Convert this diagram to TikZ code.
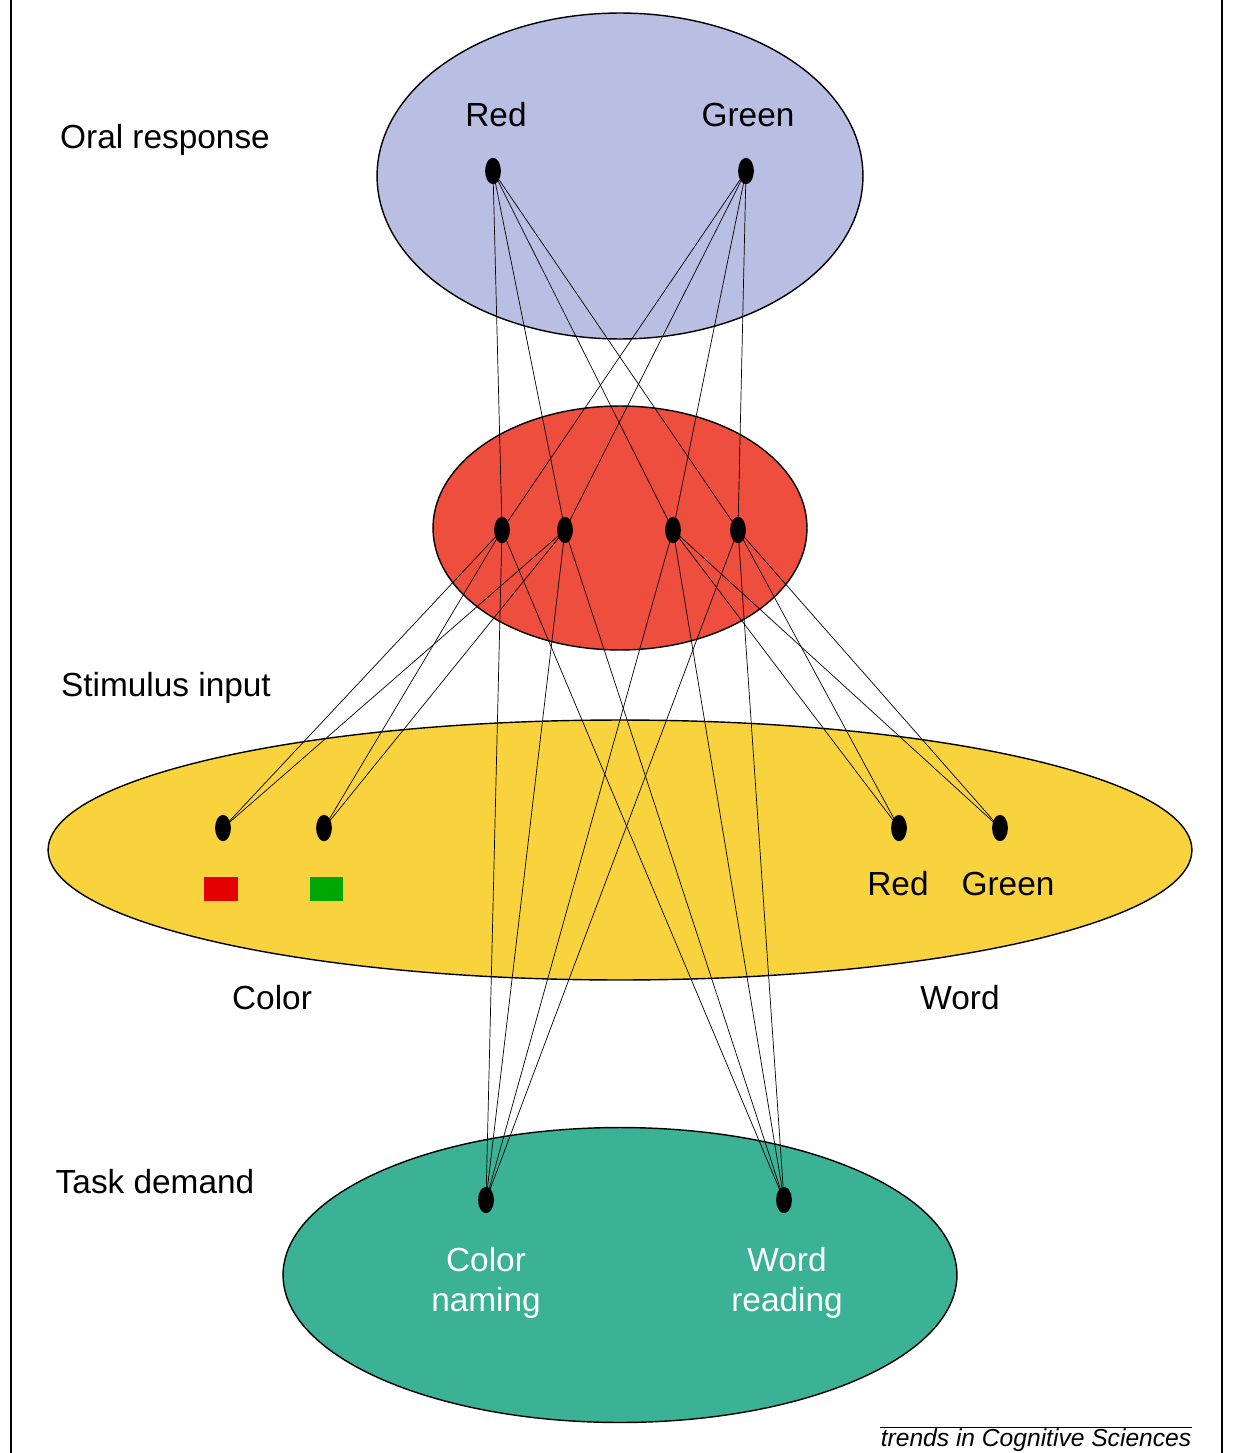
\documentclass[tikz,border=0pt]{standalone}
\usepackage{fontspec}
\setmainfont{Liberation Sans}
\usetikzlibrary{shapes.geometric}
\definecolor{oralblue}{HTML}{B9BEE3}
\definecolor{hiddenred}{HTML}{EE4E3E}
\definecolor{stimyellow}{HTML}{F9D33E}
\definecolor{taskgreen}{HTML}{3BB195}
\begin{document}
\begin{tikzpicture}[x=0.02cm, y=-0.02cm,
		unit/.style={ellipse, fill=black, inner sep=0pt, minimum width=9pt, minimum height=15pt},
		layer/.style={ellipse, draw, thick, inner sep=0pt},
		lbl/.style={font=\fontsize{19}{23}\selectfont},
		wlbl/.style={lbl, text=white, align=center}]
		\useasboundingbox (0,0) rectangle (1249,1453);
		\draw[thick] (11,0) -- (11,1453);
		\draw[thick] (1222,0) -- (1222,1453);

		% layers
		\node [layer, fill=oralblue, minimum width=9.72cm, minimum height=6.52cm] (oral) at (620,176) {};
		\node [layer, fill=hiddenred, minimum width=7.48cm, minimum height=4.88cm] (hidden) at (620,528) {};
		\node [layer, fill=stimyellow, minimum width=22.88cm, minimum height=5.2cm] (stim) at (620,850) {};
		\node [layer, fill=taskgreen, minimum width=13.48cm, minimum height=5.9cm] (task) at (620,1275) {};

		% units
		\node [unit] (oR) at (493,171) {};
		\node [unit] (oG) at (746,171) {};
		\node [unit] (h1) at (502,530) {};
		\node [unit] (h2) at (565,530) {};
		\node [unit] (h3) at (673,530) {};
		\node [unit] (h4) at (738,530) {};
		\node [unit] (cR) at (223,828) {};
		\node [unit] (cG) at (324,828) {};
		\node [unit] (wR) at (899,828) {};
		\node [unit] (wG) at (1000,828) {};
		\node [unit] (tC) at (486,1200) {};
		\node [unit] (tW) at (784,1200) {};

		% connections
		\foreach \h in {h1,h2,h3,h4} {
			\draw (oR.center) -- (\h.center);
			\draw (oG.center) -- (\h.center);
			\draw (tC.center) -- (\h.center);
			\draw (tW.center) -- (\h.center);
		}
		\foreach \h in {h1,h2} {
			\draw (cR.center) -- (\h.center);
			\draw (cG.center) -- (\h.center);
		}
		\foreach \h in {h3,h4} {
			\draw (wR.center) -- (\h.center);
			\draw (wG.center) -- (\h.center);
		}

		% labels
		\node [lbl] (lOral) at (165,140) {Oral response};
		\node [lbl] (lRed) at (496,115) {Red};
		\node [lbl] (lGreen) at (748,115) {Green};
		\node [lbl] (lStim) at (166,688) {Stimulus input};
		\node [lbl] (lwRed) at (898,884) {Red};
		\node [lbl] (lwGreen) at (1008,884) {Green};
		\node [fill=red!90!black, minimum width=0.68cm, minimum height=0.48cm, inner sep=0pt] (sqR) at (221,889) {};
		\node [fill=green!65!black, minimum width=0.66cm, minimum height=0.48cm, inner sep=0pt] (sqG) at (326,889) {};
		\node [lbl] (lColor) at (272,998) {Color};
		\node [lbl] (lWord) at (960,998) {Word};
		\node [lbl] (lTask) at (155,1182) {Task demand};
		\node [wlbl] (lNaming) at (486,1283) {Color\\naming};
		\node [wlbl] (lReading) at (787,1283) {Word\\reading};
		\node [font=\itshape\fontsize{14}{16}\selectfont, inner sep=1pt] (src) at (1036,1440) {trends in Cognitive Sciences};
		\draw (880,1427) -- (1192,1427);
\end{tikzpicture}
\end{document}
